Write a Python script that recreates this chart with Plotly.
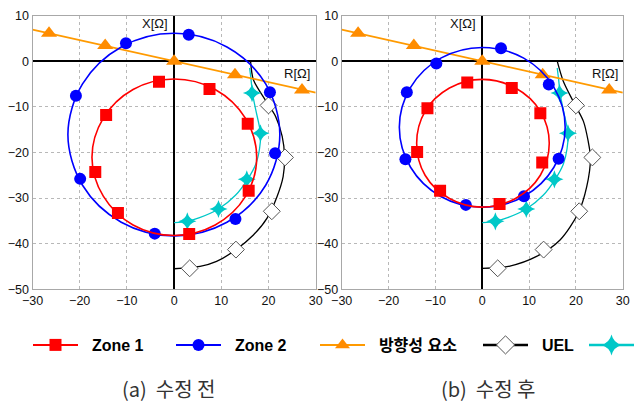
import plotly.graph_objects as go

W, H = 639, 406

# ---------------- data ----------------
X_TICKS = [-30, -20, -10, 0, 10, 20, 30]
Y_TICKS = [-50, -40, -30, -20, -10, 0, 10]

# (a) before modification
z1a_curve_x = [0, 8.7, 15.1, 17.5, 15.1, 8.7, 0, -8.7, -15.0, -17.4, -15.0, -8.7, 0]
z1a_curve_y = [-3.9, -6.2, -12.5, -21.1, -29.7, -35.9, -38.2, -35.9, -29.6, -21.1, -12.5, -6.2, -3.9]
z1a_pts_x = [-3.2, 7.5, -14.4, 15.6, -16.7, 15.8, -11.9, 3.2]
z1a_pts_y = [-4.5, -6.1, -11.8, -13.7, -24.3, -28.4, -33.3, -37.9]

z2a_curve_x = [0, 11.2, 19.4, 22.4, 19.4, 11.2, 0, -11.2, -19.4, -22.5, -19.4, -11.2, 0]
z2a_curve_y = [6.1, 3.1, -5.0, -16.1, -27.2, -35.3, -38.3, -35.3, -27.2, -16.1, -5.0, 3.1, 6.1]
z2a_pts_x = [3.1, -10.2, -20.8, 20.3, 21.4, -19.9, 13.0, -4.1]
z2a_pts_y = [5.8, 3.9, -7.6, -6.8, -20.2, -25.8, -34.6, -37.8]

uela_curve_x = [16.2, 16.8, 19.3, 21.5, 22.9, 23.4, 23.1, 21.8, 19.7, 16.8, 13.0, 9.0, 5.5, 0]
uela_curve_y = [0, -4.1, -8.5, -12.1, -16.5, -20.9, -25.3, -29.7, -34.4, -38.1, -41.4, -43.9, -45.0, -45.5]

# (b) after modification
z1b_curve_x = [0, 7.1, 12.4, 14.3, 12.4, 7.1, 0, -7.0, -12.2, -14.0, -12.2, -7.0, 0]
z1b_curve_y = [-4.0, -5.9, -11.0, -18.0, -25.0, -30.1, -32.0, -30.1, -25.0, -18.0, -11.0, -5.9, -4.0]
z1b_pts_x = [-3.2, 6.3, -11.7, 12.4, -13.9, 12.8, -9.0, 3.7]
z1b_pts_y = [-4.7, -5.9, -10.3, -11.4, -19.9, -22.2, -28.4, -31.3]

z2b_curve_x = [0, 8.85, 15.3, 17.7, 15.3, 8.85, 0, -8.85, -15.3, -17.7, -15.3, -8.85, 0]
z2b_curve_y = [3.0, 0.65, -5.75, -14.5, -23.25, -29.65, -32.0, -29.65, -23.25, -14.5, -5.75, 0.65, 3.0]
z2b_pts_x = [4.0, -9.8, -16.1, 14.2, -16.4, 16.3, 8.9, -3.5]
z2b_pts_y = [2.8, -0.5, -6.8, -5.1, -21.5, -21.4, -29.6, -31.5]

uelb_curve_x = [16.0, 17.3, 19.4, 21.6, 22.6, 23.1, 22.3, 20.5, 16.6, 11.6, 5.9, 0]
uelb_curve_y = [0, -4.4, -8.8, -13.2, -17.5, -21.2, -27.5, -33.3, -39.2, -42.8, -44.9, -45.4]

# shared by both panels
dir_line_x = [-30, 30]
dir_line_y = [6.9, -6.9]
dir_pts_x = [-26.5, -14.6, 0, 12.9, 27.1]
dir_pts_y = [6.1, 3.4, 0, -3.0, -6.3]

uel_pts_x = [20.0, 23.5, 20.7, 13.1, 3.3]
uel_pts_y = [-9.7, -21.1, -32.9, -41.3, -45.4]

cyan_curve_x = [16.0, 16.3, 16.6, 17.3, 18.3, 18.1, 17.3, 15.5, 13.0, 9.4, 5.4, 2.8, 0]
cyan_curve_y = [-1.5, -4.0, -7.0, -10.7, -15.8, -19.2, -22.6, -26.0, -29.4, -32.4, -34.3, -35.1, -35.4]
cyan_pts_x = [16.5, 18.3, 15.4, 9.4, 2.8]
cyan_pts_y = [-7.0, -15.8, -25.9, -32.4, -35.1]

LEGEND_NAMES = ["Zone 1", "Zone 2", "방향성 요소", "UEL", ""]
CAPTIONS = ["(a)\u00a0 수정 전", "(b)\u00a0 수정 후"]

# ---------------- styles ----------------
RED = "#ff0000"
BLUE = "#0000ff"
ORANGE = "#ff9a00"
ORANGE_M = "#ff8c00"
BLACK = "#000000"
CYAN = "#00c8c8"

fig = go.Figure()


def add_panel(xa, ya, z1c, z1p, z2c, z2p, uelc):
    def sc(x, y, **kw):
        fig.add_trace(go.Scatter(x=x, y=y, xaxis=xa, yaxis=ya,
                                 showlegend=False, hoverinfo="skip", **kw))

    # UEL
    sc(uelc[0], uelc[1], mode="lines",
       line=dict(color=BLACK, width=1.3, shape="spline", smoothing=0.8))
    sc(uel_pts_x, uel_pts_y, mode="markers",
       marker=dict(symbol="diamond", size=13, color="white",
                   line=dict(color="#555555", width=1)))
    # cyan characteristic
    sc(cyan_curve_x, cyan_curve_y, mode="lines",
       line=dict(color=CYAN, width=1.3, shape="spline", smoothing=0.8))
    sc(cyan_pts_x, cyan_pts_y, mode="markers",
       marker=dict(symbol="star-diamond", size=13, color=CYAN, line=dict(width=0)))
    # directional element
    sc(dir_line_x, dir_line_y, mode="lines", line=dict(color=ORANGE, width=1.6))
    sc(dir_pts_x, dir_pts_y, mode="markers",
       marker=dict(symbol="triangle-up", size=14, color=ORANGE_M, line=dict(width=0)))
    # Zone 2
    sc(z2c[0], z2c[1], mode="lines",
       line=dict(color=BLUE, width=1.6, shape="spline", smoothing=1.0))
    sc(z2p[0], z2p[1], mode="markers",
       marker=dict(symbol="circle", size=12, color=BLUE, line=dict(width=0)))
    # Zone 1
    sc(z1c[0], z1c[1], mode="lines",
       line=dict(color=RED, width=1.6, shape="spline", smoothing=1.0))
    sc(z1p[0], z1p[1], mode="markers",
       marker=dict(symbol="square", size=12, color=RED, line=dict(width=0)))


add_panel("x", "y", (z1a_curve_x, z1a_curve_y), (z1a_pts_x, z1a_pts_y),
          (z2a_curve_x, z2a_curve_y), (z2a_pts_x, z2a_pts_y),
          (uela_curve_x, uela_curve_y))
add_panel("x2", "y2", (z1b_curve_x, z1b_curve_y), (z1b_pts_x, z1b_pts_y),
          (z2b_curve_x, z2b_curve_y), (z2b_pts_x, z2b_pts_y),
          (uelb_curve_x, uelb_curve_y))

# legend entries (one legend per item so each can sit where it belongs)
legend_styles = [
    dict(line=dict(color=RED, width=2), marker=dict(symbol="square", size=12, color=RED)),
    dict(line=dict(color=BLUE, width=2), marker=dict(symbol="circle", size=12, color=BLUE)),
    dict(line=dict(color=ORANGE, width=2), marker=dict(symbol="triangle-up", size=13, color=ORANGE_M)),
    dict(line=dict(color=BLACK, width=2.5),
         marker=dict(symbol="diamond", size=14, color="white", line=dict(color="#555555", width=1))),
    dict(line=dict(color=CYAN, width=2.5), marker=dict(symbol="star-diamond", size=15, color=CYAN)),
]
legend_ids = ["legend", "legend2", "legend3", "legend4", "legend5"]
legend_px = [33, 176, 320, 483, 589]

for name, st, lid in zip(LEGEND_NAMES, legend_styles, legend_ids):
    fig.add_trace(go.Scatter(x=[None], y=[None], mode="lines+markers",
                             name=("\u00a0\u00a0" + name) if name else " ",
                             legend=lid, showlegend=True, **st))

legend_font = dict(family="Arial, 'Noto Sans CJK KR', sans-serif", size=16, color="#000000",
                   weight="bold")
legend_layouts = {}
for lid, px in zip(legend_ids, legend_px):
    legend_layouts[lid] = dict(
        x=(px - 5) / W, xanchor="left", y=1 - 345 / H, yanchor="middle",
        orientation="h", itemwidth=45, font=legend_font,
        bgcolor="rgba(0,0,0,0)", borderwidth=0, itemclick=False,
    )

tick_font = dict(family="'Liberation Sans Narrow', 'Arial Narrow', Arial, sans-serif",
                 size=12.5, color="#111111")
grid = dict(showgrid=True, gridcolor="#b8b8b8", gridwidth=1, griddash="dot",
            zeroline=True, zerolinecolor=BLACK, zerolinewidth=2,
            showline=True, linecolor="#a8a8a8", linewidth=1, mirror=True,
            ticks="", tickfont=tick_font, fixedrange=True, automargin=False)

ydom = [1 - 289.3 / H, 1 - 15.5 / H]
layout = dict(
    width=W, height=H, margin=dict(l=0, r=0, t=0, b=0, autoexpand=False),
    paper_bgcolor="white", plot_bgcolor="white",
    xaxis=dict(domain=[32.5 / W, 315.7 / W], range=[-30, 30], tickvals=X_TICKS,
               anchor="y", **grid),
    yaxis=dict(domain=ydom, range=[-50, 10], tickvals=Y_TICKS, anchor="x", **grid),
    xaxis2=dict(domain=[341.7 / W, 622.8 / W], range=[-30, 30], tickvals=X_TICKS,
                anchor="y2", **grid),
    yaxis2=dict(domain=ydom, range=[-50, 10], tickvals=Y_TICKS, anchor="x2", **grid),
    **legend_layouts,
)
fig.update_layout(**layout)

label_font = dict(family="Arial, sans-serif", size=13, color="#111111")
for xr, yr in (("x", "y"), ("x2", "y2")):
    fig.add_annotation(x=0, y=8.3, xref=xr, yref=yr, text="X[Ω]", showarrow=False,
                       xanchor="right", yanchor="middle", xshift=-4, font=label_font)
    fig.add_annotation(x=29.3, y=-2.7, xref=xr, yref=yr, text="R[Ω]", showarrow=False,
                       xanchor="right", yanchor="middle", font=label_font)

cap_font = dict(family="'Noto Sans CJK KR', sans-serif", size=20, color="#333333")
for cx, cap in zip([168.5, 488.5], CAPTIONS):
    fig.add_annotation(x=cx / W, y=1 - 405 / H, xref="paper", yref="paper", text=cap,
                       showarrow=False, xanchor="center", yanchor="bottom", font=cap_font)

fig.write_html("out.html")
